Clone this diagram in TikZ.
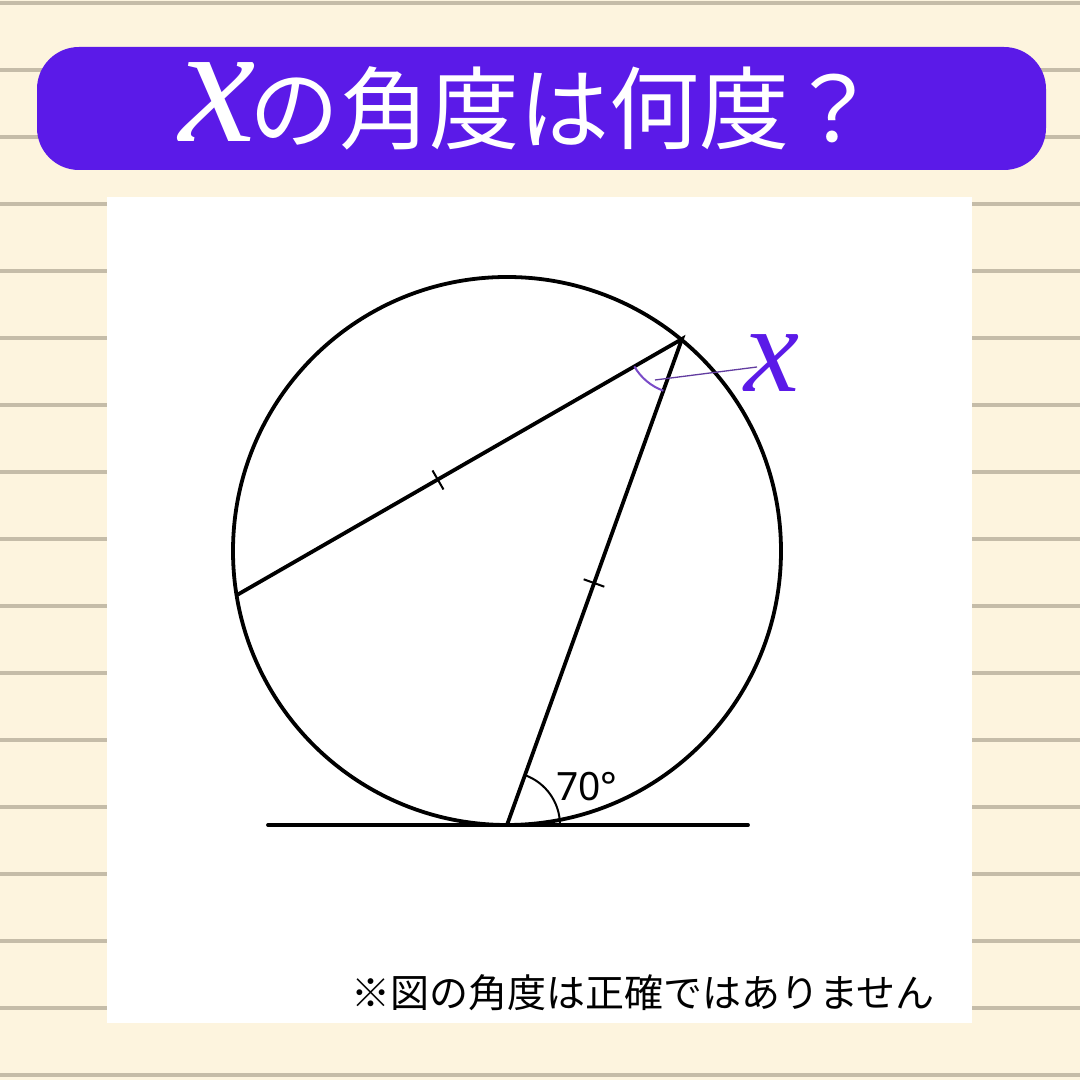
\documentclass[tikz,border=0pt]{standalone}
\usepackage{fontspec}
\usetikzlibrary{calc}
\setmainfont{Latin Modern Roman}
\newfontfamily\cjk{Noto Sans CJK JP}
\newfontfamily\numfont{Noto Sans}
\newfontfamily\xfont{Liberation Serif}
\definecolor{bgcream}{HTML}{FDF4DE}
\definecolor{rulegray}{HTML}{C5BCA8}
\definecolor{titlepurple}{HTML}{5B1AE8}
\definecolor{anglepurple}{HTML}{7A4BC8}
\tikzset{
  bgrule/.style={draw=rulegray, line width=4pt},
  geo/.style={draw=black, line width=3.8pt, line cap=round},
  tickmark/.style={draw=black, line width=2pt},
  anglearc/.style={draw=black, line width=2pt},
  xarc/.style={draw=anglepurple, line width=2pt},
  leader/.style={draw=anglepurple!80!black, line width=1.3pt},
}
\begin{document}
\begin{tikzpicture}[x=1pt,y=1pt]
\useasboundingbox (0,0) rectangle (1080,1080);
\fill[bgcream] (0,0) rectangle (1080,1080);
\foreach \k in {0,...,16}{
  \draw[bgrule] (0,{1076.5-67*\k}) -- (1080,{1076.5-67*\k});
}
% title banner
\node[fill=titlepurple, rounded corners=42pt, minimum width=1009pt, minimum height=123pt, inner sep=0pt] (banner) at (541.5,971.5) {};
\node[text=white, inner sep=0pt] (tx) at (218,978) {\xfont\fontsize{172}{172}\selectfont\itshape x};
\node[text=white, inner sep=0pt] (ttext) at (564,972) {\cjk\fontsize{90}{90}\selectfont の角度は何度？};
% white panel
\fill[white] (107,57) rectangle (972,883);
% geometry
\coordinate (O) at (507,529);
\coordinate (A) at (682,741);
\coordinate (L) at (237,485);
\coordinate (B) at (507,255);
\coordinate (T1) at (268,255);
\coordinate (T2) at (748,255);
\draw[geo] (O) circle[radius=274];
\draw[geo] (T1) -- (T2);
\draw[geo] (B) -- (A) -- (L);
% ticks
\coordinate (m1) at (438,600);
\coordinate (m2) at (594,497);
\draw[tickmark] ($(m1)+(-5.5,9.5)$) -- ($(m1)+(5.5,-9.5)$);
\draw[tickmark] ($(m2)+(-10.3,3.7)$) -- ($(m2)+(10.3,-3.7)$);
% 70 degree angle
\draw[anglearc] ($(B)+(53,0)$) arc[start angle=0, end angle=70.2, radius=53];
\node[inner sep=0pt] (lab70) at (587,293) {\numfont\fontsize{39}{39}\selectfont 70°};
% x angle
\draw[xarc] ($(A)+(209.9:55)$) arc[start angle=209.9, end angle=250.2, radius=55];
\coordinate (lead) at (655,700);
\node[text=titlepurple, inner sep=0pt] (xlab) at (772,717) {\xfont\fontsize{124}{124}\selectfont\itshape x};
\draw[leader] (lead) -- (757,713);
% note
\node[inner sep=0pt] (note) at (643,87) {\cjk\fontsize{39}{39}\selectfont ※図の角度は正確ではありません};
\end{tikzpicture}
\end{document}
